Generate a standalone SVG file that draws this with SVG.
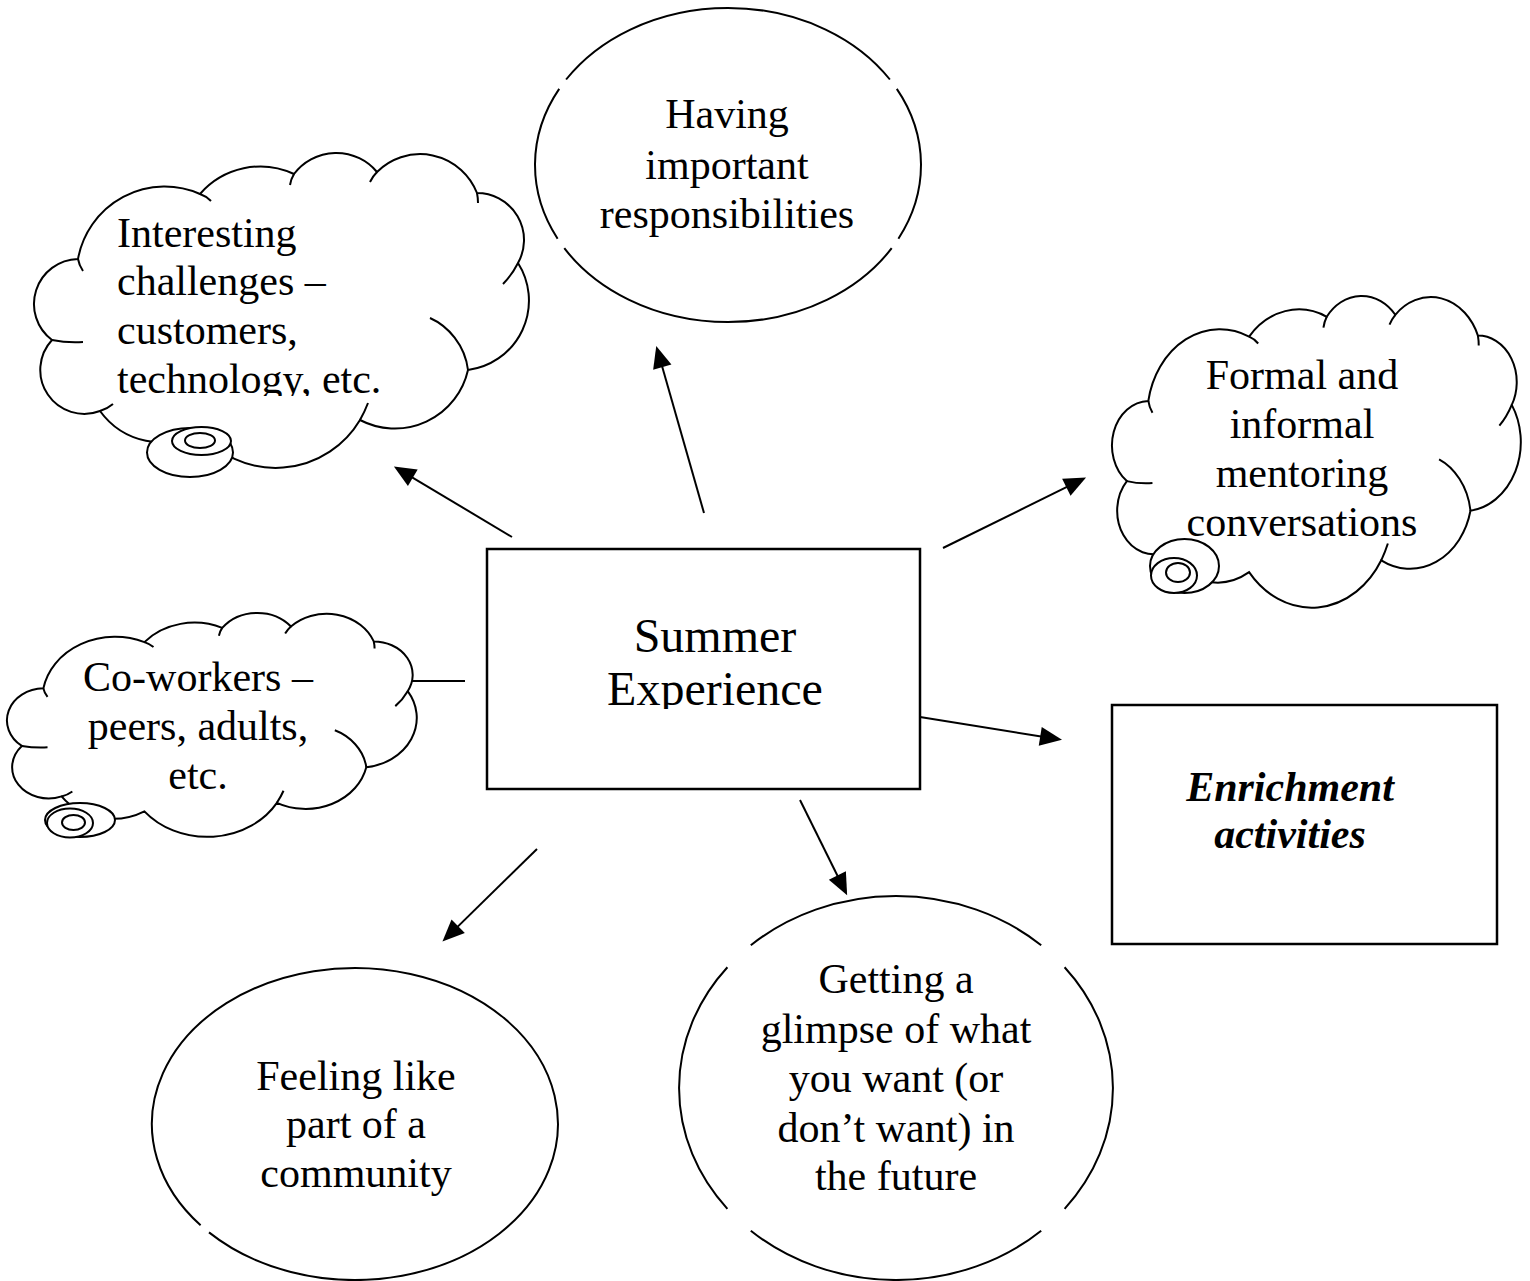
<svg xmlns="http://www.w3.org/2000/svg" xmlns:xlink="http://www.w3.org/1999/xlink" width="1530" height="1281" viewBox="0 0 1530 1281">
<style>
.t{font-family:"Liberation Serif","Times New Roman",serif;font-size:42px;fill:#000}
.m{text-anchor:middle}
.big{font-size:48px}
.bi{font-weight:bold;font-style:italic}
.ol{fill:none;stroke:#000;stroke-width:2}
.box{fill:#fff;stroke:#000;stroke-width:2.5}
.bub{fill:#fff;stroke:#000;stroke-width:2}
.con{fill:none;stroke:#000;stroke-width:2}
.arr{marker-end:url(#ah)}
</style>
<defs>
<marker id="ah" markerUnits="userSpaceOnUse" markerWidth="23" markerHeight="19" refX="12" refY="9.5" orient="auto" overflow="visible">
<path d="M0,0 L22,9.5 L0,19 Z" fill="#000"/>
</marker>
<path id="cloudBody" fill="#fff" stroke="#000" stroke-width="2" vector-effect="non-scaling-stroke" d="M78,259 A88,88 0 0 1 200,194 A80,80 0 0 1 294,174 A53,53 0 0 1 377,172 A61,61 0 0 1 477,193 A47,47 0 0 1 518,263 A70,70 0 0 1 468,370 A75,75 0 0 1 360,420 A98,98 0 0 1 200,432 A76,76 0 0 1 100,411 A44,44 0 0 1 52,340 A45,45 0 0 1 78,259 Z"/>
<path id="cloudCrease" fill="none" stroke="#000" stroke-width="2" vector-effect="non-scaling-stroke" d="M78,259 Q79,265 83,271 M200,194 Q206,196 211,201 M294,174 Q291,179 290,185 M377,172 Q373,176 370,182 M477,193 Q478,198 478,203 M518,263 Q512,275 503,284 M430,318 C448,326 465,345 468,370 M360,420 Q365,411 368,403 M100,411 Q107,409 113,404 M52,340 Q67,343 83,342"/>
<clipPath id="clipInt"><rect x="0" y="150" width="540" height="246"/></clipPath>
<clipPath id="clipSum"><rect x="490" y="552" width="428" height="157"/></clipPath>
</defs>
<rect x="0" y="0" width="1530" height="1281" fill="#fff"/>

<g id="connectors">
<line class="con arr" x1="512" y1="537" x2="402.5" y2="471.6"/>
<line class="con arr" x1="704" y1="513" x2="659.0" y2="355.6"/>
<line class="con arr" x1="943" y1="548" x2="1077.1" y2="481.9"/>
<line class="con arr" x1="920" y1="717" x2="1052.1" y2="738.2"/>
<line class="con arr" x1="800" y1="800" x2="842.7" y2="886.2"/>
<line class="con arr" x1="537" y1="849" x2="449.6" y2="934.6"/>
<line class="con" x1="405" y1="681" x2="465" y2="681"/>
</g>

<g id="node-summer">
<rect class="box" x="487" y="549" width="433" height="240"/>
<g clip-path="url(#clipSum)">
<text class="t m big" x="715" y="652">Summer</text>
<text class="t m big" x="715" y="705">Experience</text>
</g>
</g>

<g id="node-responsibilities">
<path class="ol" d="M566.1,79.5 A193,157 0 0 1 889.9,79.5 M896.8,88.9 A193,157 0 0 1 898.4,238.7 M891.7,248.2 A193,157 0 0 1 564.3,248.2 M557.6,238.7 A193,157 0 0 1 559.2,88.9"/>
<text class="t m" x="727" y="128">Having</text>
<text class="t m" x="727" y="179">important</text>
<text class="t m" x="727" y="228">responsibilities</text>
</g>

<g id="node-challenges">
<use xlink:href="#cloudBody" href="#cloudBody"/>
<use xlink:href="#cloudCrease" href="#cloudCrease"/>
<ellipse class="bub" cx="190" cy="452.5" rx="43" ry="24.5"/>
<ellipse class="bub" cx="201.5" cy="441" rx="29.5" ry="14"/>
<ellipse class="bub" cx="200" cy="440.5" rx="15" ry="7.5"/>
<g clip-path="url(#clipInt)">
<text class="t" x="117" y="247">Interesting</text>
<text class="t" x="117" y="295">challenges –</text>
<text class="t" x="117" y="344">customers,</text>
<text class="t" x="117" y="393">technology, etc.</text>
</g>
</g>

<g id="node-mentoring">
<g transform="translate(1083.9,144.5) scale(0.826,0.99)">
<use xlink:href="#cloudBody" href="#cloudBody"/>
<use xlink:href="#cloudCrease" href="#cloudCrease"/>
</g>
<ellipse class="bub" cx="1184.5" cy="566" rx="34.5" ry="27"/>
<ellipse class="bub" cx="1174" cy="575.5" rx="23" ry="17.5"/>
<ellipse class="bub" cx="1178" cy="572.5" rx="12" ry="9.5"/>
<text class="t m" x="1302" y="389">Formal and</text>
<text class="t m" x="1302" y="438">informal</text>
<text class="t m" x="1302" y="487">mentoring</text>
<text class="t m" x="1302" y="536">conversations</text>
</g>

<g id="node-coworkers">
<g transform="translate(-21.2,504.2) scale(0.828,0.711)">
<use xlink:href="#cloudBody" href="#cloudBody"/>
<use xlink:href="#cloudCrease" href="#cloudCrease"/>
</g>
<ellipse class="bub" cx="80" cy="820" rx="35" ry="17"/>
<ellipse class="bub" cx="70" cy="823" rx="23" ry="14.5"/>
<ellipse class="bub" cx="73.5" cy="822.5" rx="11.5" ry="7.5"/>
<text class="t m" x="198" y="691">Co-workers –</text>
<text class="t m" x="198" y="740">peers, adults,</text>
<text class="t m" x="198" y="789">etc.</text>
</g>

<g id="node-enrichment">
<rect class="box" x="1112" y="705" width="385" height="239"/>
<text class="t m bi" x="1290" y="801">Enrichment</text>
<text class="t m bi" x="1290" y="848">activities</text>
</g>

<g id="node-future">
<path class="ol" d="M750.8,945.3 A217,192 0 0 1 1041.2,945.3 M1064.6,967.2 A217,192 0 0 1 1064.6,1208.8 M1041.2,1230.7 A217,192 0 0 1 750.8,1230.7 M727.4,1208.8 A217,192 0 0 1 727.4,967.2"/>
<text class="t m" x="896" y="993">Getting a</text>
<text class="t m" x="896" y="1043">glimpse of what</text>
<text class="t m" x="896" y="1092">you want (or</text>
<text class="t m" x="896" y="1142">don’t want) in</text>
<text class="t m" x="896" y="1190">the future</text>
</g>

<g id="node-community">
<path class="ol" d="M209.0,1232.4 A203,156 0 1 0 200.6,1225.3"/>
<text class="t m" x="356" y="1090">Feeling like</text>
<text class="t m" x="356" y="1138">part of a</text>
<text class="t m" x="356" y="1187">community</text>
</g>
</svg>
